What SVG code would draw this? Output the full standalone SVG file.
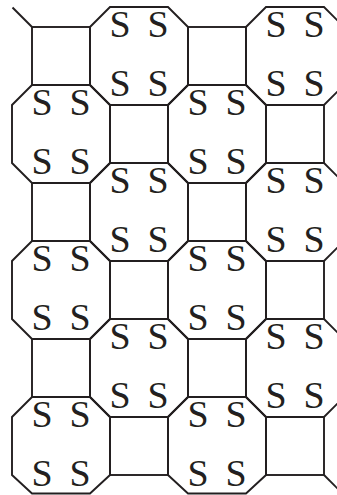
<svg xmlns="http://www.w3.org/2000/svg" width="337" height="495" viewBox="0 0 337 495">
<style>
.o,.q,.e{fill:none;stroke:#231f20;stroke-width:1.9;stroke-linejoin:miter}
.s{font-family:"Liberation Serif","Times New Roman",serif;font-size:38px;fill:#231f20;text-anchor:middle}
</style>
<rect width="337" height="495" fill="#fff"/>
<g id="squares">
<g id="sq-0-0"><rect class="q" x="32" y="27" width="58" height="58"/></g>
<g id="sq-2-0"><rect class="q" x="188" y="27" width="58" height="58"/></g>
<g id="sq-1-1"><rect class="q" x="110" y="105" width="58" height="58"/></g>
<g id="sq-3-1"><rect class="q" x="266" y="105" width="58" height="58"/></g>
<g id="sq-0-2"><rect class="q" x="32" y="183" width="58" height="58"/></g>
<g id="sq-2-2"><rect class="q" x="188" y="183" width="58" height="58"/></g>
<g id="sq-1-3"><rect class="q" x="110" y="261" width="58" height="58"/></g>
<g id="sq-3-3"><rect class="q" x="266" y="261" width="58" height="58"/></g>
<g id="sq-0-4"><rect class="q" x="32" y="339" width="58" height="58"/></g>
<g id="sq-2-4"><rect class="q" x="188" y="339" width="58" height="58"/></g>
<g id="sq-1-5"><rect class="q" x="110" y="417" width="58" height="58"/></g>
<g id="sq-3-5"><rect class="q" x="266" y="417" width="58" height="58"/></g>
</g>
<g id="octagons">
<g id="oct-1-0"><polygon class="o" points="110,7 168,7 188,27 188,85 168,105 110,105 90,85 90,27"/>
<text class="s" x="120" y="37">S</text><text class="s" x="158" y="37">S</text><text class="s" x="120" y="95.5">S</text><text class="s" x="158" y="95.5">S</text></g>
<g id="oct-3-0"><polygon class="o" points="266,7 324,7 344,27 344,85 324,105 266,105 246,85 246,27"/>
<text class="s" x="276" y="37">S</text><text class="s" x="314" y="37">S</text><text class="s" x="276" y="95.5">S</text><text class="s" x="314" y="95.5">S</text></g>
<g id="oct-0-1"><polygon class="o" points="32,85 90,85 110,105 110,163 90,183 32,183 12,163 12,105"/>
<text class="s" x="42" y="115">S</text><text class="s" x="80" y="115">S</text><text class="s" x="42" y="173.5">S</text><text class="s" x="80" y="173.5">S</text></g>
<g id="oct-2-1"><polygon class="o" points="188,85 246,85 266,105 266,163 246,183 188,183 168,163 168,105"/>
<text class="s" x="198" y="115">S</text><text class="s" x="236" y="115">S</text><text class="s" x="198" y="173.5">S</text><text class="s" x="236" y="173.5">S</text></g>
<g id="oct-1-2"><polygon class="o" points="110,163 168,163 188,183 188,241 168,261 110,261 90,241 90,183"/>
<text class="s" x="120" y="193">S</text><text class="s" x="158" y="193">S</text><text class="s" x="120" y="251.5">S</text><text class="s" x="158" y="251.5">S</text></g>
<g id="oct-3-2"><polygon class="o" points="266,163 324,163 344,183 344,241 324,261 266,261 246,241 246,183"/>
<text class="s" x="276" y="193">S</text><text class="s" x="314" y="193">S</text><text class="s" x="276" y="251.5">S</text><text class="s" x="314" y="251.5">S</text></g>
<g id="oct-0-3"><polygon class="o" points="32,241 90,241 110,261 110,319 90,339 32,339 12,319 12,261"/>
<text class="s" x="42" y="271">S</text><text class="s" x="80" y="271">S</text><text class="s" x="42" y="329.5">S</text><text class="s" x="80" y="329.5">S</text></g>
<g id="oct-2-3"><polygon class="o" points="188,241 246,241 266,261 266,319 246,339 188,339 168,319 168,261"/>
<text class="s" x="198" y="271">S</text><text class="s" x="236" y="271">S</text><text class="s" x="198" y="329.5">S</text><text class="s" x="236" y="329.5">S</text></g>
<g id="oct-1-4"><polygon class="o" points="110,319 168,319 188,339 188,397 168,417 110,417 90,397 90,339"/>
<text class="s" x="120" y="349">S</text><text class="s" x="158" y="349">S</text><text class="s" x="120" y="407.5">S</text><text class="s" x="158" y="407.5">S</text></g>
<g id="oct-3-4"><polygon class="o" points="266,319 324,319 344,339 344,397 324,417 266,417 246,397 246,339"/>
<text class="s" x="276" y="349">S</text><text class="s" x="314" y="349">S</text><text class="s" x="276" y="407.5">S</text><text class="s" x="314" y="407.5">S</text></g>
<g id="oct-0-5"><polygon class="o" points="32,397 90,397 110,417 110,475 90,493.5 32,493.5 12,475 12,417"/>
<text class="s" x="42" y="427">S</text><text class="s" x="80" y="427">S</text><text class="s" x="42" y="485.5">S</text><text class="s" x="80" y="485.5">S</text></g>
<g id="oct-2-5"><polygon class="o" points="188,397 246,397 266,417 266,475 246,493.5 188,493.5 168,475 168,417"/>
<text class="s" x="198" y="427">S</text><text class="s" x="236" y="427">S</text><text class="s" x="198" y="485.5">S</text><text class="s" x="236" y="485.5">S</text></g>
</g>
<g id="connectors">
<line class="e" x1="12.5" y1="7.5" x2="32" y2="27"/>
<line class="e" x1="324" y1="475" x2="344" y2="495"/>
</g>
</svg>
